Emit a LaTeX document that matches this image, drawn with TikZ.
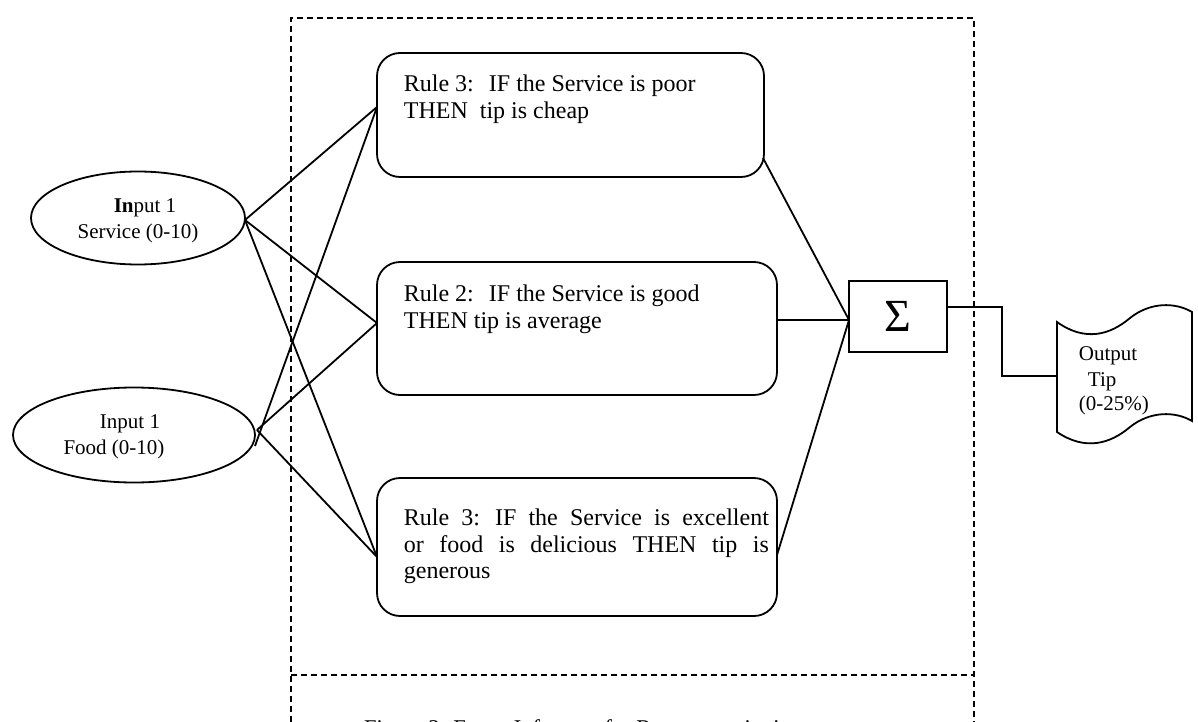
\documentclass[tikz,border=0pt]{standalone}
\usepackage{fontspec}
\setmainfont{Liberation Serif}
\usetikzlibrary{shapes.geometric}
\begin{document}
\begin{tikzpicture}[x=1pt,y=-1pt,line width=1.8pt,
  rulebox/.style={draw,rounded corners=23pt,inner sep=0pt},
  ruletxt/.style={anchor=base west,inner sep=0pt,font=\fontsize{24}{27}\selectfont},
  ell/.style={draw,ellipse,inner sep=0pt},
  elltxt/.style={anchor=base,inner sep=0pt,font=\fontsize{21}{25}\selectfont},
  outtxt/.style={anchor=base west,inner sep=0pt,font=\fontsize{21}{25}\selectfont},
  sigbox/.style={draw,rectangle,inner sep=0pt,minimum width=98pt,minimum height=71pt,font=\fontsize{46}{46}\selectfont},
  wire/.style={line width=1.8pt},
  frame/.style={line width=1.6pt,dash pattern=on 6pt off 4pt},
  captxt/.style={anchor=base,inner sep=0pt,font=\fontsize{22.5}{26}\selectfont}]
\useasboundingbox (0,0) rectangle (1198,722);
% dashed frame
\draw[frame] (291,722) -- (291,18) -- (974,18) -- (974,722);
\draw[frame] (291,675) -- (974,675);
% inputs
\node[ell,minimum width=214pt,minimum height=93pt] (in1) at (138,218) {};
\node[elltxt] (in1a) at (145,212) {\textbf{In}put 1};
\node[elltxt] (in1b) at (138,238) {Service (0-10)};
\node[ell,minimum width=242pt,minimum height=95pt] (in2) at (134,435) {};
\node[elltxt] (in2a) at (130,428) {Input 1};
\node[elltxt] (in2b) at (114,454) {Food (0-10)};
% rules
\node[rulebox,minimum width=387pt,minimum height=124pt] (r1) at (570.5,115) {};
\node[ruletxt] (r1a) at (403,92) {Rule 3:\hspace{15pt}IF the Service is poor};
\node[ruletxt] (r1b) at (403,119) {THEN\hspace{12pt}tip is cheap};
\node[rulebox,minimum width=400pt,minimum height=133pt] (r2) at (577,328.5) {};
\node[ruletxt] (r2a) at (403,301) {Rule 2:\hspace{15pt}IF the Service is good};
\node[ruletxt] (r2b) at (403,328) {THEN tip is average};
\node[rulebox,minimum width=400pt,minimum height=138pt] (r3) at (577,547) {};
\node[ruletxt] (r3a) at (403,525) {\makebox[365pt][s]{Rule 3:\hspace{15pt}IF the Service is excellent}};
\node[ruletxt] (r3b) at (403,552) {\makebox[365pt][s]{or food is delicious THEN tip is}};
\node[ruletxt] (r3c) at (403,578) {generous};
% sigma
\node[sigbox] (sig) at (898,316.5) {Σ};
% output tape
\draw (1057,322) .. controls (1085,342) and (1110,335) .. (1130,318)
  .. controls (1150,302) and (1175,302) .. (1192,312) -- (1192,421)
  .. controls (1175,411) and (1150,411) .. (1130,427)
  .. controls (1110,444) and (1085,451) .. (1057,432) -- cycle;
\node[outtxt] (o1) at (1078,360) {Output};
\node[outtxt] (o2) at (1087,386) {Tip};
\node[outtxt] (o3) at (1078,410) {(0-25\%)};
% connection points
\coordinate (s0) at (245,220);
\coordinate (f1) at (257,430);
\coordinate (f2) at (255,446);
\coordinate (r1in) at (377,107);
\coordinate (r2in) at (377,323);
\coordinate (r3in) at (377,557);
\coordinate (r1out) at (763,158);
\coordinate (r2out) at (777,320);
\coordinate (r3out) at (777,555);
\coordinate (sigin) at (849,320);
\coordinate (sigout) at (947,307);
\coordinate (outin) at (1057,376);
% connectors
\draw[wire] (s0) -- (r1in);
\draw[wire] (s0) -- (r2in);
\draw[wire] (s0) -- (r3in);
\draw[wire] (f2) -- (r1in);
\draw[wire] (f1) -- (r2in);
\draw[wire] (f1) -- (r3in);
\draw[wire] (r1out) -- (sigin);
\draw[wire] (r2out) -- (sigin);
\draw[wire] (r3out) -- (sigin);
\draw[wire] (sigout) -- ++(55,0) |- (outin);
% caption (cut off at the lower edge, as in the reference)
\node[captxt] (cap) at (583,735) {Figure 3: Fuzzy Inference for Restaurant tipping};
\end{tikzpicture}
\end{document}
